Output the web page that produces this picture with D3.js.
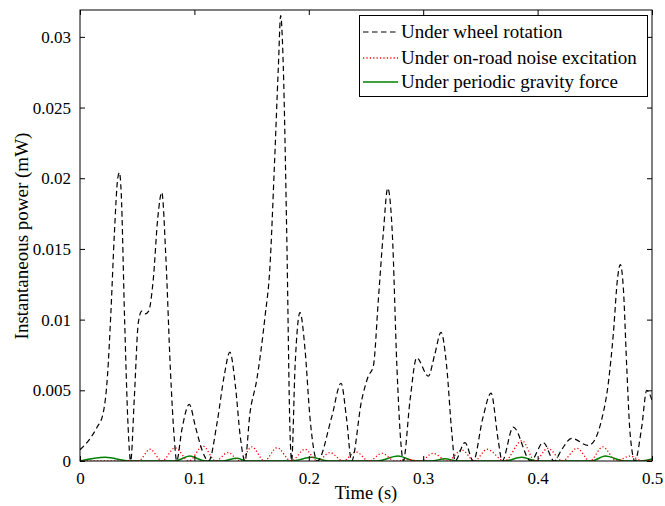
<!DOCTYPE html>
<html>
<head>
<meta charset="utf-8">
<script src="https://cdn.jsdelivr.net/npm/d3@7/dist/d3.min.js"></script>
<style>
  html, body { margin: 0; padding: 0; background: #fff; }
  svg { display: block; }
  text { font-family: "Liberation Serif", "Times New Roman", serif; fill: #000; }
</style>
</head>
<body>
<svg id="chart" width="665" height="506"></svg>
<script>
// Instantaneous power (mW) over time (s) for three excitation cases.

// Under wheel rotation
const wheelTime = [0.000, 0.008, 0.015, 0.020, 0.024, 0.027, 0.030, 0.033, 0.0345, 0.036, 0.039, 0.042, 0.0443,
  0.0475, 0.051, 0.054, 0.057, 0.060, 0.064, 0.068, 0.0715, 0.075, 0.079, 0.0825, 0.0845,
  0.089, 0.0955, 0.101, 0.107, 0.1125, 0.120, 0.126, 0.131, 0.136, 0.140, 0.1442,
  0.1486, 0.1544, 0.1617, 0.166, 0.1699, 0.1734, 0.1754, 0.1777, 0.1807, 0.1836, 0.185,
  0.188, 0.1923, 0.1967, 0.201, 0.2075, 0.220, 0.2282, 0.233, 0.2374,
  0.2462, 0.252, 0.2564, 0.2608, 0.2651, 0.269, 0.273, 0.277, 0.281, 0.2826,
  0.2885, 0.2943, 0.3045, 0.310, 0.3156, 0.3205, 0.325, 0.3278, 0.3365, 0.3438,
  0.352, 0.3593, 0.3655, 0.369, 0.3787, 0.394, 0.405, 0.4145,
  0.421, 0.4298, 0.4444, 0.450, 0.4559, 0.4618, 0.4662, 0.470, 0.4723, 0.4749, 0.4779, 0.4808, 0.4851,
  0.491, 0.4954, 0.500];
const wheelPower = [0.0008, 0.0015, 0.0024, 0.0033, 0.0060, 0.0105, 0.0160, 0.0200, 0.0204, 0.0190, 0.0100, 0.0025, 0.0000,
  0.0045, 0.0098, 0.0106, 0.0104, 0.0106, 0.0128, 0.0172, 0.0190, 0.0145, 0.0065, 0.0015, 0.0000,
  0.0022, 0.0040, 0.0024, 0.0007, 0.0000, 0.0028, 0.0060, 0.0077, 0.0052, 0.0018, 0.0000,
  0.0034, 0.0057, 0.0102, 0.0137, 0.0208, 0.0279, 0.0315, 0.0279, 0.0161, 0.0020, 0.0000,
  0.0067, 0.0105, 0.0079, 0.0031, 0.0000, 0.0031, 0.0055, 0.0030, 0.0000,
  0.0043, 0.0060, 0.0067, 0.0114, 0.0161, 0.0193, 0.0161, 0.0067, 0.0008, 0.0000,
  0.0043, 0.0073, 0.0060, 0.0075, 0.0091, 0.0067, 0.0020, 0.0000, 0.0013, 0.0000,
  0.0030, 0.0048, 0.0015, 0.0000, 0.0024, 0.0000, 0.0013, 0.0000,
  0.0008, 0.0016, 0.0011, 0.0015, 0.0029, 0.0055, 0.0090, 0.0130, 0.0139, 0.0123, 0.0067, 0.0020, 0.0000,
  0.0024, 0.0050, 0.0043];

// Under on-road noise excitation
const noiseTime = [0.000, 0.051, 0.0612, 0.0718, 0.083, 0.0952, 0.1075, 0.1185, 0.1294, 0.1398, 0.1503,
  0.1612, 0.1722, 0.1845, 0.1967, 0.2076, 0.2185, 0.2299, 0.2413, 0.2526, 0.264, 0.2753, 0.2867,
  0.2976, 0.3086, 0.3212, 0.3339, 0.3448, 0.3558, 0.3711, 0.3864, 0.3977, 0.409, 0.4217, 0.4345,
  0.4457, 0.457, 0.4689, 0.4808, 0.492, 0.500];
const noisePower = [0.0000, 0.0000, 0.00083, 0.0000, 0.00094, 0.0000, 0.00106, 0.0000, 0.00060, 0.0000, 0.00100,
  0.0000, 0.00094, 0.0000, 0.00083, 0.0000, 0.00060, 0.0000, 0.00064, 0.0000, 0.00054, 0.0000, 0.00010,
  0.0000, 0.00054, 0.0000, 0.00078, 0.0000, 0.00083, 0.0000, 0.00144, 0.0000, 0.00090, 0.0000, 0.00090,
  0.0000, 0.00100, 0.0000, 0.00035, 0.0000, 0.00008];

// Under periodic gravity force
const gravityTime = [0.000, 0.022, 0.044, 0.083, 0.096, 0.109, 0.125, 0.137, 0.146, 0.185, 0.2025, 0.217,
  0.260, 0.278, 0.293, 0.307, 0.319, 0.330, 0.371, 0.386, 0.400, 0.4475, 0.459, 0.476, 0.490, 0.500];
const gravityPower = [0.0000, 0.00026, 0.0000, 0.0000, 0.00035, 0.0000, 0.0000, 0.00020, 0.0000, 0.0000, 0.00026, 0.0000,
  0.0000, 0.00035, 0.0000, 0.0000, 0.00016, 0.0000, 0.0000, 0.00026, 0.0000, 0.0000, 0.00035, 0.0000, 0.0000, 0.00014];

const xTicks = [0, 0.1, 0.2, 0.3, 0.4, 0.5];
const xTickLabels = ["0", "0.1", "0.2", "0.3", "0.4", "0.5"];
const yTicks = [0, 0.005, 0.01, 0.015, 0.02, 0.025, 0.03];
const yTickLabels = ["0", "0.005", "0.01", "0.015", "0.02", "0.025", "0.03"];
const legendLabels = ["Under wheel rotation", "Under on-road noise excitation", "Under periodic gravity force"];

const svg = d3.select("#chart");
const plotLeft = 80, plotRight = 652, plotTop = 10, plotBottom = 461;

const x = d3.scaleLinear().domain([0, 0.5]).range([plotLeft, plotRight]);
const y = d3.scaleLinear().domain([0, 0.0319]).range([plotBottom, plotTop]);

svg.append("defs").append("clipPath").attr("id", "plotClip")
  .append("rect").attr("x", plotLeft).attr("y", plotTop)
  .attr("width", plotRight - plotLeft).attr("height", plotBottom - plotTop);

const series = [
  { t: wheelTime, v: wheelPower, color: "#000000", dash: "5.5,3.5", width: 1.2 },
  { t: noiseTime, v: noisePower, color: "#ff0000", dash: "1.2,2.2", width: 1.3 },
  { t: gravityTime, v: gravityPower, color: "#008000", dash: null, width: 1.5 }
];

const line = d3.line().x(d => x(d[0])).y(d => y(d[1])).curve(d3.curveMonotoneX);
const plot = svg.append("g").attr("clip-path", "url(#plotClip)");

// gravity first, then noise, then wheel on top
[2, 1, 0].forEach(i => {
  const s = series[i];
  plot.append("path")
    .datum(d3.zip(s.t, s.v))
    .attr("d", line)
    .attr("fill", "none")
    .attr("stroke", s.color)
    .attr("stroke-width", s.width)
    .attr("stroke-dasharray", s.dash);
});

// Axes with inward ticks on all four sides
const fmtX = d => xTickLabels[xTicks.indexOf(d)];
const fmtY = d => yTickLabels[yTicks.indexOf(d)];

const gx = svg.append("g").attr("transform", `translate(0,${plotBottom})`)
  .call(d3.axisBottom(x).tickValues(xTicks).tickFormat(fmtX).tickSizeInner(-5).tickSizeOuter(0).tickPadding(11));
const gxt = svg.append("g").attr("transform", `translate(0,${plotTop})`)
  .call(d3.axisTop(x).tickValues(xTicks).tickFormat("").tickSizeInner(-5).tickSizeOuter(0));
const gy = svg.append("g").attr("transform", `translate(${plotLeft},0)`)
  .call(d3.axisLeft(y).tickValues(yTicks).tickFormat(fmtY).tickSizeInner(-5).tickSizeOuter(0).tickPadding(9));
const gyr = svg.append("g").attr("transform", `translate(${plotRight},0)`)
  .call(d3.axisRight(y).tickValues(yTicks).tickFormat("").tickSizeInner(-5).tickSizeOuter(0));

[gx, gxt, gy, gyr].forEach(g => {
  g.select(".domain").remove();
  g.selectAll(".tick line").attr("stroke", "#000").attr("stroke-width", 1);
  g.selectAll("text").attr("font-family", "Liberation Serif").attr("font-size", 17).attr("fill", "#000");
});

svg.append("rect")
  .attr("x", plotLeft).attr("y", plotTop)
  .attr("width", plotRight - plotLeft).attr("height", plotBottom - plotTop)
  .attr("fill", "none").attr("stroke", "#000").attr("stroke-width", 1);

// Axis titles
svg.append("text").attr("x", (plotLeft + plotRight) / 2).attr("y", 499)
  .attr("text-anchor", "middle").attr("font-size", 18.5).text("Time (s)");
svg.append("text").attr("transform", "translate(28,236) rotate(-90)")
  .attr("text-anchor", "middle").attr("font-size", 19).text("Instantaneous power (mW)");

// Legend
const lg = svg.append("g");
lg.append("rect").attr("x", 359.5).attr("y", 15.5).attr("width", 288).attr("height", 81)
  .attr("fill", "#fff").attr("stroke", "#000").attr("stroke-width", 1);
const rowY = [32, 58, 82];
legendLabels.forEach((label, i) => {
  const s = series[i];
  lg.append("line").attr("x1", 363).attr("x2", 398).attr("y1", rowY[i]).attr("y2", rowY[i])
    .attr("stroke", s.color).attr("stroke-width", s.width).attr("stroke-dasharray", s.dash);
  lg.append("text").attr("x", 401).attr("y", rowY[i] + 6).attr("font-size", 19).text(label);
});
</script>
</body>
</html>
